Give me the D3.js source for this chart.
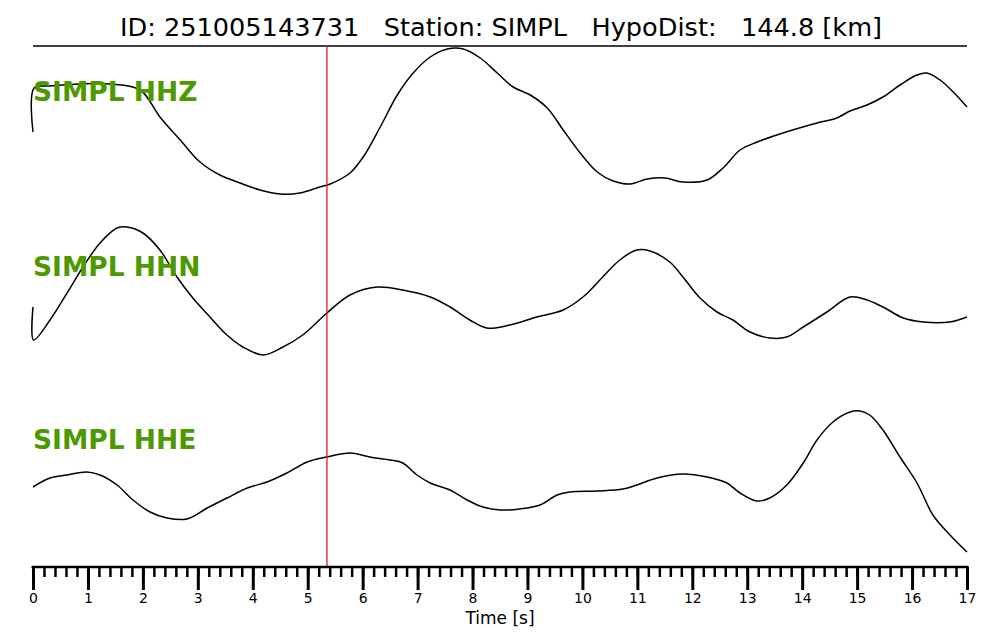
<!DOCTYPE html>
<html>
<head>
<meta charset="utf-8">
<script src="https://cdn.jsdelivr.net/npm/d3@7"></script>
<style>
  body { margin: 0; background: #fff; }
  svg { display: block; }
</style>
</head>
<body>
<svg id="chart" width="1000" height="640"></svg>
<script>
// header text
var eventId = "251005143731";
var station = "SIMPL";
var hypoDist = "144.8";
var pickTime = 5.35;   // red marker [s]

var channels = ["HHZ", "HHN", "HHE"];

// trace samples (time in s, amplitude in arbitrary counts)
var zTimes = [0, 0.02, 0.31, 0.86, 1.40, 1.95, 2.31, 2.68, 3.04, 3.40, 3.77, 4.13, 4.50, 4.86, 5.22, 5.41, 5.77, 6.01, 6.32, 6.63, 6.92, 7.23, 7.54, 7.83, 8.14, 8.45, 8.74, 9.05, 9.36, 9.65, 9.96, 10.27, 10.56, 10.87, 11.18, 11.50, 11.83, 12.27, 12.56, 12.87, 13.18, 13.65, 14.27, 14.63, 14.87, 15.18, 15.47, 15.78, 16.09, 16.27, 16.51, 16.75, 17.0];
var zAmp   = [-12, 32, 34, 36, 36, 30, 3, -20, -42, -55, -63, -70, -74, -73, -67, -64, -53, -37, -7, 25, 47, 63, 71, 71, 62, 47, 33, 25, 12, -10, -33, -52, -61, -64, -59, -58, -62, -60, -48, -30, -22, -13, -3, 2, 9, 15, 23, 35, 45, 47, 40, 28, 13];

var nTimes = [0, 0.01, 0.31, 0.62, 0.91, 1.22, 1.53, 1.71, 2.00, 2.31, 2.62, 2.91, 3.22, 3.53, 3.82, 4.19, 4.55, 4.91, 5.35, 5.77, 6.26, 6.73, 7.23, 7.59, 7.95, 8.26, 8.68, 9.17, 9.65, 10.01, 10.37, 10.68, 10.99, 11.23, 11.59, 11.83, 12.14, 12.45, 12.74, 13.05, 13.41, 13.72, 14.02, 14.45, 14.87, 15.18, 15.47, 15.84, 16.20, 16.69, 17.0];
var nAmp   = [-7, -40, -20, 7, 33, 57, 72, 73, 67, 50, 23, 2, -17, -35, -47, -55, -47, -35, -13, 5, 13, 10, 3, -7, -20, -28, -25, -17, -10, 3, 23, 40, 50, 49, 38, 23, 2, -12, -20, -32, -38, -37, -27, -12, 3, 0, -7, -18, -22, -22, -17];

var eTimes = [0, 0.31, 0.62, 0.98, 1.22, 1.53, 1.82, 2.13, 2.44, 2.80, 3.17, 3.53, 3.90, 4.26, 4.62, 4.99, 5.35, 5.77, 6.13, 6.50, 6.73, 6.99, 7.23, 7.59, 7.90, 8.19, 8.50, 8.86, 9.23, 9.54, 9.77, 10.27, 10.74, 10.99, 11.36, 11.83, 12.27, 12.63, 12.87, 13.18, 13.41, 13.72, 14.02, 14.27, 14.56, 14.87, 15.05, 15.23, 15.47, 15.78, 16.09, 16.38, 16.69, 17.0];
var eAmp   = [-7, 2, 5, 8, 5, -5, -20, -32, -38, -39, -28, -18, -8, -2, 7, 18, 23, 27, 23, 20, 17, 5, -3, -10, -20, -27, -30, -29, -25, -15, -12, -11, -9, -5, 2, 6, 3, -3, -13, -21, -18, -5, 17, 40, 58, 68, 69, 65, 50, 23, -3, -35, -55, -72];

var traces = [
    { name: station + " " + channels[0], t: zTimes, v: zAmp },
    { name: station + " " + channels[1], t: nTimes, v: nAmp },
    { name: station + " " + channels[2], t: eTimes, v: eAmp }
];

var svg = d3.select("#chart");
var leftX = 33, rightX = 967, topY = 46, axisY = 567;

var x = d3.scaleLinear().domain([0, 17]).range([leftX, rightX]);

// trace centre lines, stacked like obspy
var offset = d3.scalePoint().domain(d3.range(traces.length)).range([120, 480]);

svg.append("text")
    .attr("x", 501)
    .attr("y", 36)
    .attr("text-anchor", "middle")
    .style("font-family", "DejaVu Sans, sans-serif")
    .style("font-size", "25.6px")
    .style("white-space", "pre")
    .attr("xml:space", "preserve")
    .text("ID: " + eventId + "   Station: " + station + "   HypoDist:   " + hypoDist + " [km]");

svg.append("line")
    .attr("x1", leftX).attr("x2", rightX)
    .attr("y1", topY).attr("y2", topY)
    .attr("stroke", "#000")
    .attr("stroke-width", 1.5);

traces.forEach(function(tr, i) {
    var mid = offset(i);
    var y = d3.scaleLinear().domain([-80, 80]).range([mid + 80, mid - 80]);
    var line = d3.line()
        .x(function(d) { return x(d[0]); })
        .y(function(d) { return y(d[1]); })
        .curve(d3.curveCatmullRom);
    svg.append("path")
        .datum(d3.zip(tr.t, tr.v))
        .attr("d", line)
        .attr("fill", "none")
        .attr("stroke", "#000")
        .attr("stroke-width", 1.5);
});

// labels drawn over traces
var labelY = [101, 276, 449];
traces.forEach(function(tr, i) {
    svg.append("text")
        .attr("x", leftX)
        .attr("y", labelY[i])
        .style("font-family", "DejaVu Sans, sans-serif")
        .style("font-weight", "bold")
        .style("font-size", "26.5px")
        .attr("fill", "#4c9a00")
        .text(tr.name);
});

svg.append("line")
    .attr("x1", x(pickTime)).attr("x2", x(pickTime))
    .attr("y1", topY).attr("y2", axisY)
    .attr("stroke", "#e8141c")
    .attr("stroke-width", 1.3);

// time axis: minor ticks every 0.2 s, major every second
var axisG = svg.append("g").attr("transform", "translate(0," + axisY + ")");
axisG.call(d3.axisBottom(x).tickValues(d3.range(0, 17.01, 0.2)).tickSize(10).tickFormat(""))
    .call(function(g) { g.select(".domain").remove(); });
axisG.selectAll(".tick line").attr("stroke-width", 2.5);

var major = svg.append("g").attr("transform", "translate(0," + axisY + ")");
major.call(d3.axisBottom(x).ticks(17).tickSize(23).tickPadding(3).tickFormat(d3.format("d")))
    .call(function(g) { g.select(".domain").remove(); });
major.selectAll(".tick line").attr("stroke-width", 3);
major.selectAll("text")
    .style("font-family", "DejaVu Sans, sans-serif")
    .style("font-size", "14px")
    .attr("fill", "#000");

svg.append("line")
    .attr("x1", leftX - 1.5).attr("x2", rightX + 1.5)
    .attr("y1", axisY).attr("y2", axisY)
    .attr("stroke", "#000")
    .attr("stroke-width", 2.5);

svg.append("text")
    .attr("x", 500)
    .attr("y", 624)
    .attr("text-anchor", "middle")
    .style("font-family", "DejaVu Sans, sans-serif")
    .style("font-size", "17px")
    .text("Time [s]");
</script>
</body>
</html>
